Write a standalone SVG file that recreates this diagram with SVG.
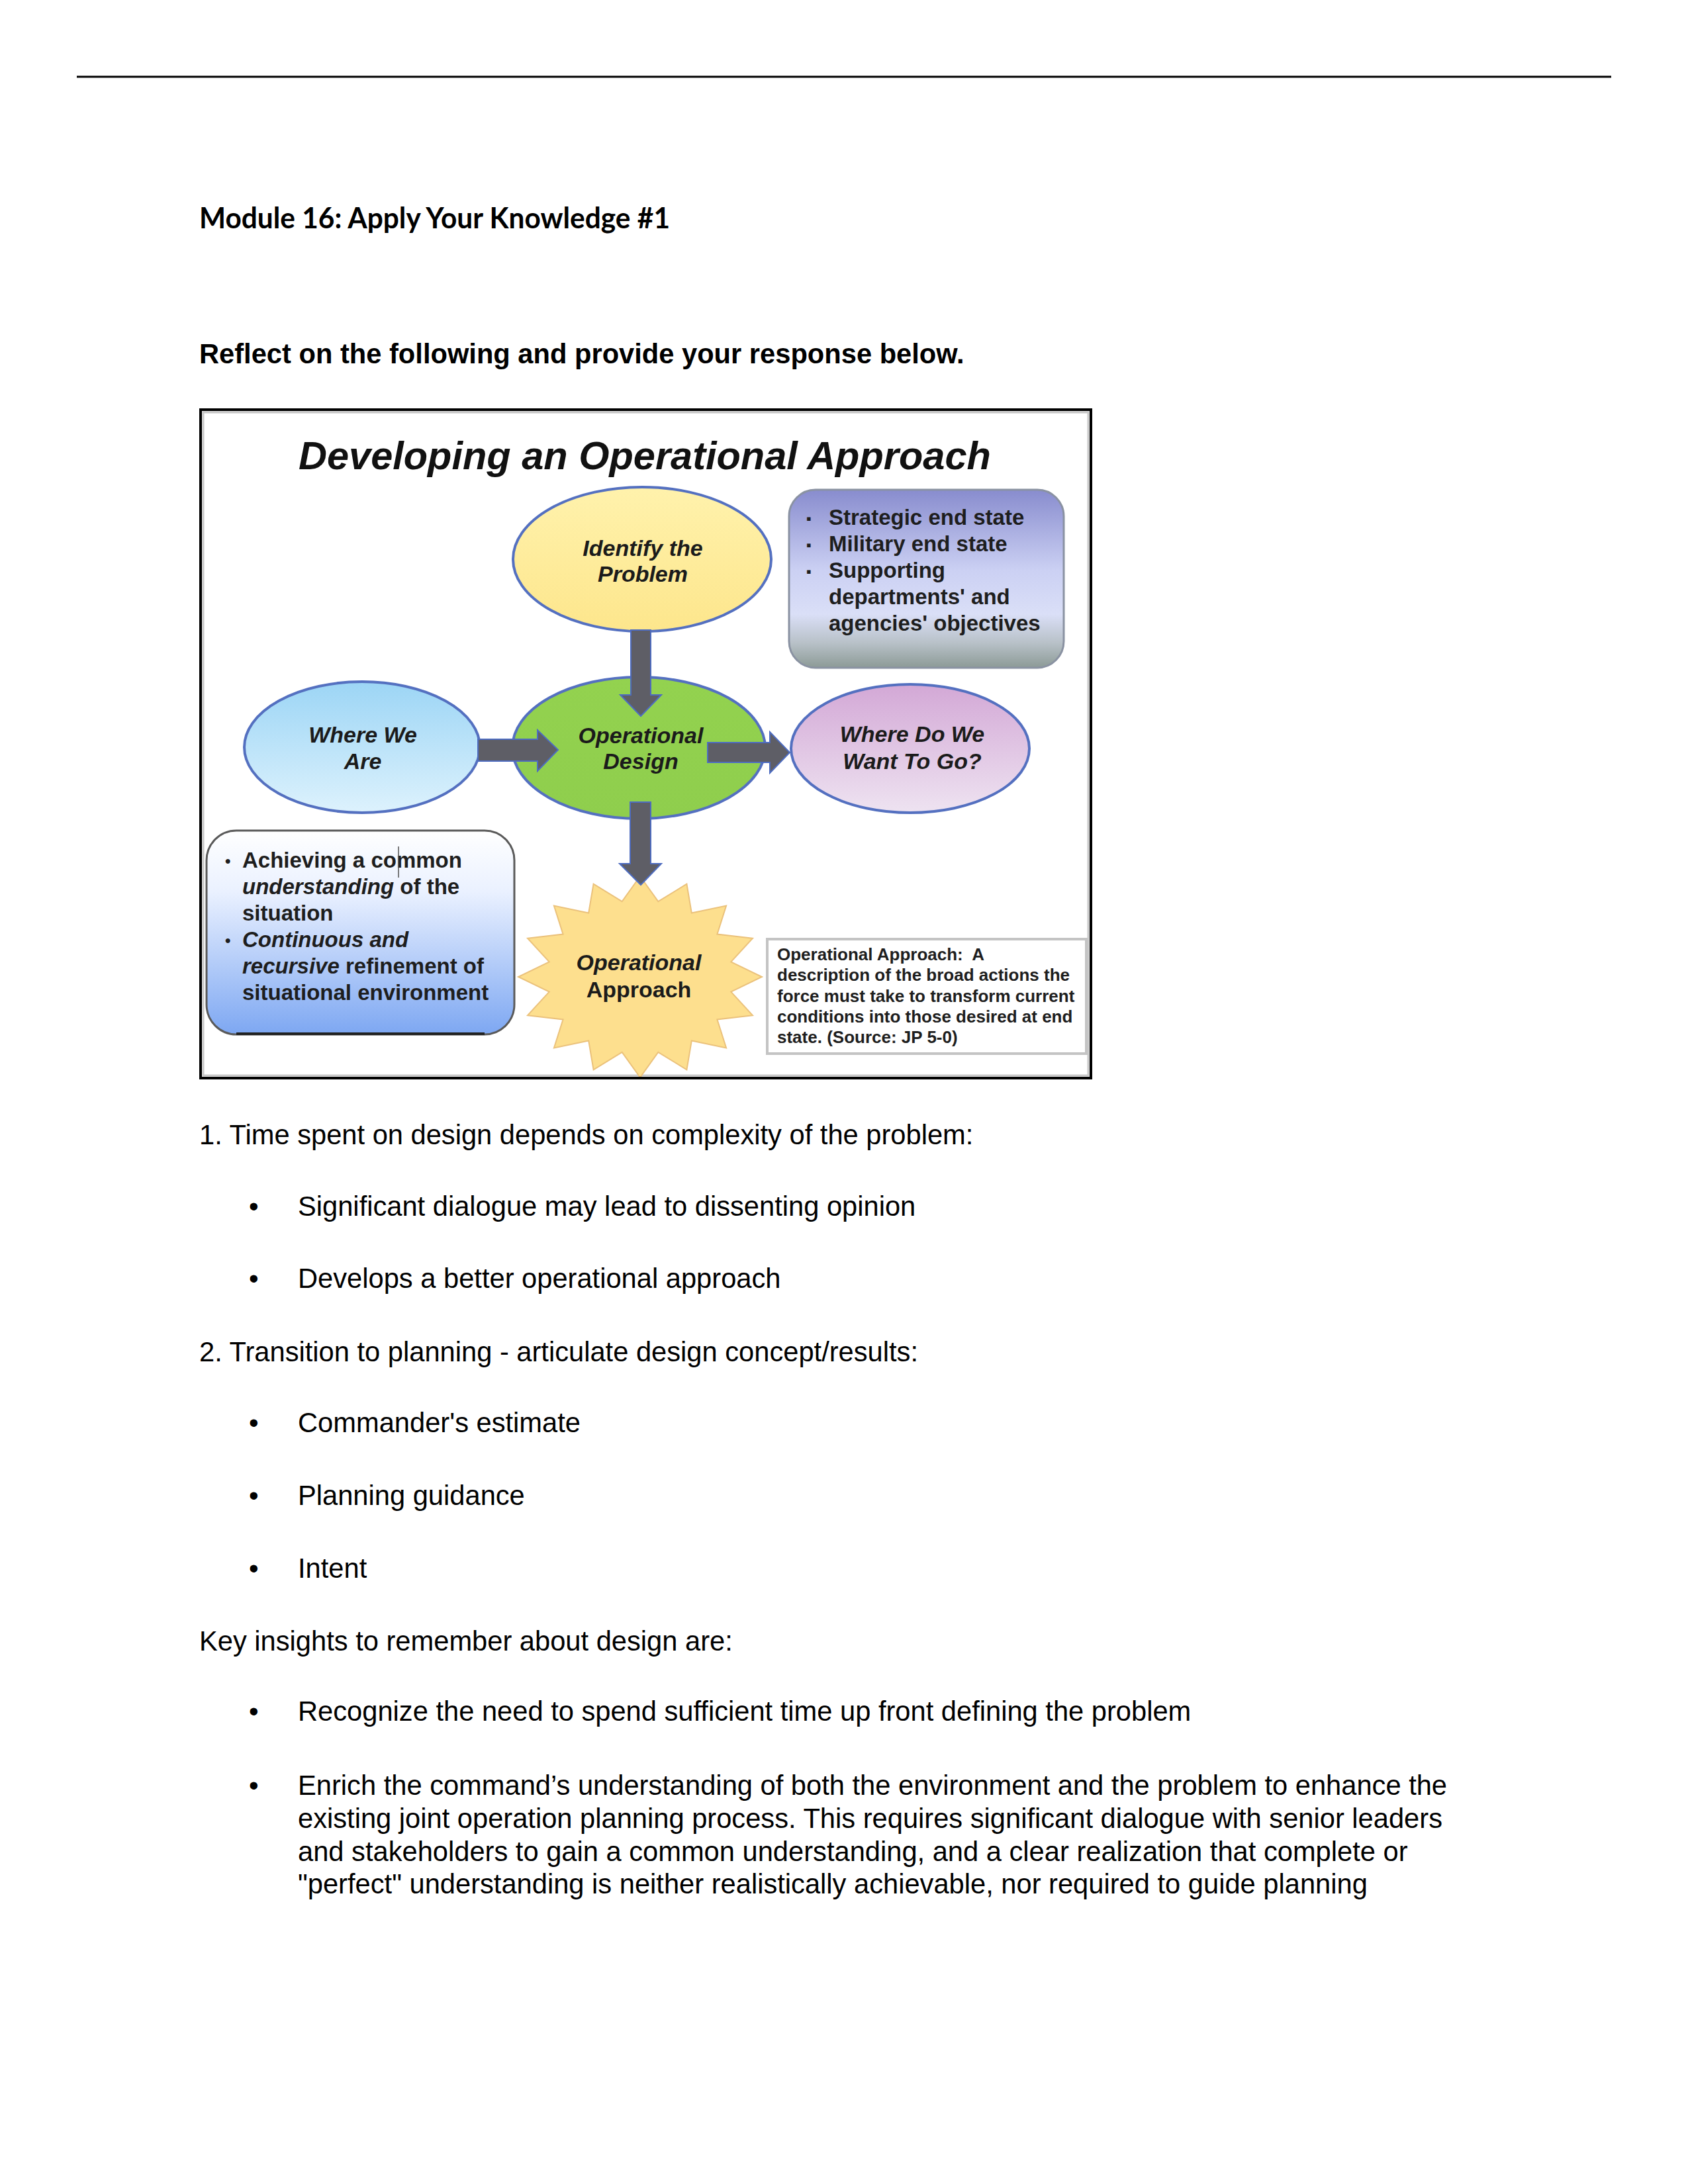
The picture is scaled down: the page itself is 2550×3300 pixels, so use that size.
<svg xmlns="http://www.w3.org/2000/svg" width="2550" height="3300" viewBox="0 0 2550 3300">
<style>
.body{font-family:"Liberation Sans",Arial,sans-serif;font-size:41.67px;fill:#000}
.lbl{font-family:"Liberation Sans",Arial,sans-serif;font-weight:bold;font-style:italic;font-size:34px;fill:#1b1b1b;text-anchor:middle}
.up{font-style:normal}
.it{font-style:italic}
.box{font-family:"Liberation Sans",Arial,sans-serif;font-weight:bold;font-size:33px;fill:#1e1e1e}
.def{font-family:"Liberation Sans",Arial,sans-serif;font-weight:bold;font-size:26px;fill:#1e1e1e}
.node{stroke:#5470C0;stroke-width:4}
.arrow{fill:#5E5E66;stroke:#4E6CC0;stroke-width:2;stroke-linejoin:miter}
</style>
<defs>
<linearGradient id="gYellow" x1="0" y1="0" x2="0" y2="1"><stop offset="0" stop-color="#FFF2AC"/><stop offset="1" stop-color="#FDE68C"/></linearGradient>
<linearGradient id="gBlue" x1="0" y1="0" x2="0" y2="1"><stop offset="0" stop-color="#9CD5F5"/><stop offset="1" stop-color="#DDF2FD"/></linearGradient>
<linearGradient id="gGreen" x1="0" y1="0" x2="0" y2="1"><stop offset="0" stop-color="#93D24F"/><stop offset="1" stop-color="#8FCE4D"/></linearGradient>
<linearGradient id="gPink" x1="0" y1="0" x2="0" y2="1"><stop offset="0" stop-color="#D3A8D6"/><stop offset="1" stop-color="#EEE3F1"/></linearGradient>
<linearGradient id="gPurple" x1="0" y1="0" x2="0" y2="1"><stop offset="0" stop-color="#888CCE"/><stop offset="0.45" stop-color="#CBD0F3"/><stop offset="0.7" stop-color="#DADFF7"/><stop offset="0.86" stop-color="#B8C1C8"/><stop offset="1" stop-color="#8C9A96"/></linearGradient>
<linearGradient id="gLeft" x1="0" y1="0" x2="0" y2="1"><stop offset="0" stop-color="#FFFFFF"/><stop offset="0.3" stop-color="#EAF1FF"/><stop offset="1" stop-color="#7DA7F2"/></linearGradient>
<clipPath id="frameClip"><rect x="307" y="623" width="1337" height="1004"/></clipPath>
</defs>

<line x1="116" y1="116" x2="2434" y2="116" stroke="#000" stroke-width="3"/>

<text x="301" y="345" font-family="Lato, 'Liberation Sans', sans-serif" font-weight="bold" font-size="44" textLength="711" lengthAdjust="spacingAndGlyphs">Module 16: Apply Your Knowledge #1</text>
<text x="301" y="549" class="body" font-weight="bold">Reflect on the following and provide your response below.</text>

<g id="figure">
<rect x="303" y="619" width="1345" height="1010" fill="#FFFFFF" stroke="#000" stroke-width="4"/>
<rect x="307" y="623" width="1337" height="1002" fill="none" stroke="#C8C8C8" stroke-width="3"/>
<text x="451" y="709" font-family="'Liberation Sans',Arial,sans-serif" font-weight="bold" font-style="italic" font-size="59.5" fill="#111">Developing an Operational Approach</text>
</g>

<g id="node-identify">
<ellipse cx="970" cy="845" rx="195" ry="109" fill="url(#gYellow)" class="node"/>
<text x="971" y="840" class="lbl">Identify the</text>
<text x="971" y="879" class="lbl">Problem</text>
</g>

<g id="node-where-we-are">
<ellipse cx="547" cy="1129" rx="178" ry="99" fill="url(#gBlue)" class="node"/>
<text x="548" y="1122" class="lbl">Where We</text>
<text x="548" y="1162" class="lbl">Are</text>
</g>

<g id="node-operational-design">
<ellipse cx="965" cy="1130" rx="191" ry="107" fill="url(#gGreen)" class="node"/>
<text x="968" y="1123" class="lbl">Operational</text>
<text x="968" y="1162" class="lbl">Design</text>
</g>

<g id="node-where-do-we">
<ellipse cx="1375" cy="1131" rx="180" ry="97" fill="url(#gPink)" class="node"/>
<text x="1378" y="1121" class="lbl">Where Do We</text>
<text x="1378" y="1162" class="lbl">Want To Go?</text>
</g>

<g id="node-end-states">
<rect x="1192" y="740" width="415" height="269" rx="40" ry="40" fill="url(#gPurple)" stroke="#8A92A2" stroke-width="3"/>
<g class="box">
<text x="1218" y="791" font-size="22">▪</text><text x="1252" y="793">Strategic end state</text>
<text x="1218" y="831" font-size="22">▪</text><text x="1252" y="833">Military end state</text>
<text x="1218" y="871" font-size="22">▪</text><text x="1252" y="873">Supporting</text>
<text x="1252" y="913">departments' and</text>
<text x="1252" y="953">agencies' objectives</text>
</g>
</g>

<g id="node-understanding">
<rect x="312" y="1255" width="465" height="308" rx="45" ry="45" fill="url(#gLeft)" stroke="#5A5A5A" stroke-width="3"/>
<path d="M 357 1562 L 732 1562" stroke="#222" stroke-width="4" fill="none"/>
<g class="box">
<text x="340" y="1309" font-size="24">•</text>
<text x="366" y="1311">Achieving a common</text>
<text x="366" y="1351"><tspan class="it">understanding</tspan> of the</text>
<text x="366" y="1391">situation</text>
<text x="340" y="1429" font-size="24">•</text>
<text x="366" y="1431" class="it">Continuous and</text>
<text x="366" y="1471"><tspan class="it">recursive</tspan> refinement of</text>
<text x="366" y="1511">situational environment</text>
</g>
<line x1="602" y1="1279" x2="602" y2="1326" stroke="#555" stroke-width="1.5"/>
</g>

<g id="node-operational-approach" clip-path="url(#frameClip)">
<polygon points="967,1324 994.3,1362.2 1037.4,1335.6 1044.8,1379.5 1097.1,1368.5 1083.4,1411.6 1137,1417.8 1104.3,1453.4 1151,1476 1104.3,1498.6 1137,1534.2 1083.4,1540.4 1097.1,1583.5 1044.8,1572.5 1037.4,1616.4 994.3,1589.8 967,1628 939.7,1589.8 896.6,1616.4 889.2,1572.5 836.9,1583.5 850.6,1540.4 797,1534.2 829.7,1498.6 783,1476 829.7,1453.4 797,1417.8 850.6,1411.6 836.9,1368.5 889.2,1379.5 896.6,1335.6 939.7,1362.2" fill="#FDDF8E" stroke="#EBC27C" stroke-width="2"/>
<text x="965" y="1466" class="lbl">Operational</text>
<text x="965" y="1507" class="lbl up">Approach</text>
</g>

<g id="node-definition">
<rect x="1159" y="1419" width="482" height="173" fill="#FFFFFF" stroke="#C4C4C4" stroke-width="4"/>
<g class="def">
<text x="1174" y="1451" xml:space="preserve">Operational Approach:  A</text>
<text x="1174" y="1482">description of the broad actions the</text>
<text x="1174" y="1514">force must take to transform current</text>
<text x="1174" y="1545">conditions into those desired at end</text>
<text x="1174" y="1576">state. (Source: JP 5-0)</text>
</g>
</g>

<g id="connectors">
<polygon class="arrow" points="953,952 983,952 983,1050 999,1050 968,1082 937,1050 953,1050"/>
<polygon class="arrow" points="952,1212 983,1212 983,1305 999,1305 968,1337 936,1305 952,1305"/>
<polygon class="arrow" points="722,1117 812,1117 812,1103 843,1133 812,1165 812,1150 722,1150"/>
<polygon class="arrow" points="1069,1122 1163,1122 1163,1106 1193,1137 1163,1168 1163,1152 1069,1152"/>
</g>

<g id="body-text" class="body">
<text x="301" y="1729">1. Time spent on design depends on complexity of the problem:</text>
<text x="376" y="1837">•</text><text x="450" y="1837">Significant dialogue may lead to dissenting opinion</text>
<text x="376" y="1946">•</text><text x="450" y="1946">Develops a better operational approach</text>
<text x="301" y="2057">2. Transition to planning - articulate design concept/results:</text>
<text x="376" y="2164">•</text><text x="450" y="2164">Commander's estimate</text>
<text x="376" y="2274">•</text><text x="450" y="2274">Planning guidance</text>
<text x="376" y="2384">•</text><text x="450" y="2384">Intent</text>
<text x="301" y="2494">Key insights to remember about design are:</text>
<text x="376" y="2600">•</text><text x="450" y="2600">Recognize the need to spend sufficient time up front defining the problem</text>
<text x="376" y="2712">•</text><text x="450" y="2712">Enrich the command’s understanding of both the environment and the problem to enhance the</text>
<text x="450" y="2762">existing joint operation planning process. This requires significant dialogue with senior leaders</text>
<text x="450" y="2812">and stakeholders to gain a common understanding, and a clear realization that complete or</text>
<text x="450" y="2861">"perfect" understanding is neither realistically achievable, nor required to guide planning</text>
</g>
</svg>
